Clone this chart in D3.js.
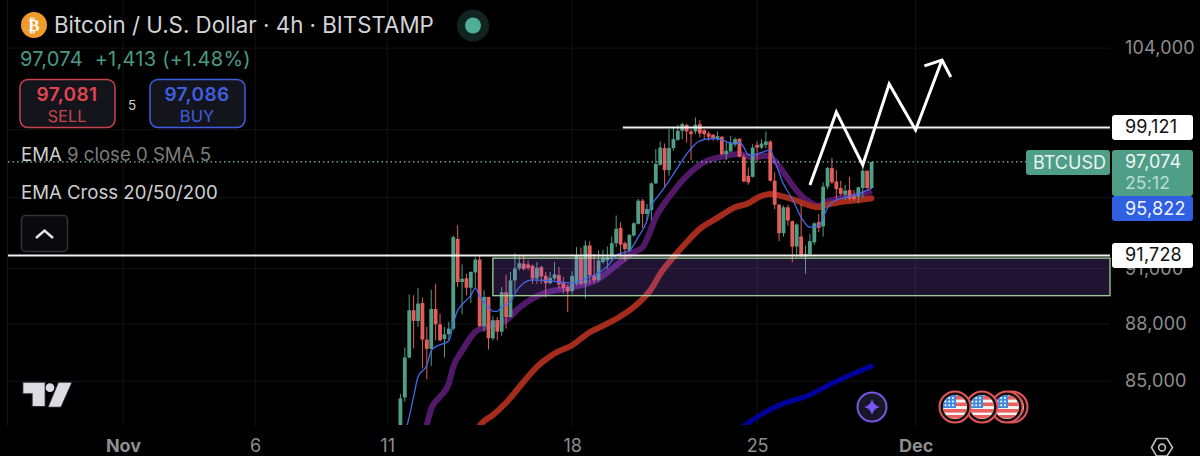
<!DOCTYPE html>
<html><head><meta charset="utf-8">
<script src="https://cdn.jsdelivr.net/npm/d3@7/dist/d3.min.js"></script>
<style>
html,body{margin:0;padding:0;background:#000;overflow:hidden}
svg{display:block;font-family:Inter,"Liberation Sans",sans-serif}
</style></head><body><svg id="c" width="1200" height="456"></svg>
<script>
// ---- data -----------------------------------------------------------------
const startDate = Date.UTC(2024,10,11,12);   // first visible 4h candle
const opens  = [82300,84170,86230,88730,88160,89120,87170,86680,88800,87980,87200,87450,87750,92650,90260,90470,89950,90790,91500,87880,89450,87240,88200,87590,89700,88370,90350,91010,91270,91230,91150,90460,91080,90600,90200,90460,90640,90200,89990,89770,90170,91630,90170,92280,90620,90380,91360,91450,91670,92410,93270,92410,92000,92840,93500,94820,94060,94290,95820,96910,97890,96590,97890,98380,98920,99280,98880,98880,99320,98960,98760,98680,98420,98560,97530,97690,98120,98440,97380,96260,96200,98080,97920,98080,98280,95970,94590,92970,94440,93650,92220,92780,91670,91780,92460,93590,93350,95630,96710,95930,95550,95170,95440,95110,95050,95550,96560,95550];
const highs  = [84340,86750,89590,89540,89950,89410,87840,89840,90170,88550,87840,88110,92840,93420,91230,90710,90830,91630,91730,89810,89450,88410,88370,89990,90660,90810,91850,91670,91710,91450,91230,91360,91170,90810,90810,91360,91080,90530,90130,90860,92190,92150,92560,92520,91820,92000,92040,92220,92780,93970,93590,92520,92900,93590,94920,94920,94630,95880,97830,98280,98160,99020,99120,99280,99420,99320,99020,99720,99560,99020,98880,98720,98880,98620,98220,98620,98520,98480,97530,96750,98120,98320,98420,98880,98360,96460,94630,94540,94590,93690,93530,94630,92280,92930,93590,94060,95880,96790,97300,96590,95970,95740,96200,95440,95630,96750,96560,97074];
const lows   = [82100,83950,86180,86700,87840,85660,85090,85780,87130,87100,86230,87130,87660,89990,88510,89540,89120,89900,87840,87580,86650,87130,87130,87380,87750,88340,89720,90900,90900,90900,90170,90170,90170,89410,90130,90350,89900,89630,88640,89590,90080,90080,89360,90170,90200,90260,91270,90990,91450,92190,91630,91410,91910,92780,93460,93270,93690,93690,95780,96850,95630,96260,97730,98320,98420,98220,97180,98720,98520,98420,98320,98320,98320,97440,97180,97630,97960,97340,95880,95740,96160,97040,97830,97890,95930,94340,92520,92780,93400,91360,91630,91630,90710,91670,92330,93030,92780,95490,95780,94920,95110,94860,94820,94820,94670,94980,95490,95490];
const closes = [84120,86230,88730,88160,89090,87170,86680,88800,87980,87130,87450,87750,92750,90260,90440,89950,90820,91500,87880,89450,87240,88200,87590,89700,88370,90350,91010,91300,90970,91040,90460,91040,90570,90200,90490,90680,90130,89920,89740,90600,91710,90170,92280,90620,90350,91450,91600,91630,92410,93220,92330,92080,92880,93530,94820,94060,94340,95820,96950,97920,96590,97890,98420,98920,99320,98880,98720,99280,98760,98720,98560,98480,98600,97530,97730,98220,98420,97380,95930,95880,97920,97920,98160,98280,95970,94590,92970,94440,93690,92220,93460,91670,91820,92520,93530,93270,95630,96710,95880,95490,95210,95400,94920,94920,95590,96560,95550,97074];
const ema9I  = [1,2,3,4,6,7,8,11,12,13,14,16,17,18,20,21,22,23,25,26,28,30,33,36,39,42,45,47,49,52,54,56,57,58,60,62,65,66,68,71,73,75,76,77,78,79,80,82,84,85,87,89,91,93,95,96,97,99,102,105,107];
const ema9V  = [82300,83193,84206,85225,85832,86577,86785,87100,88019,88726,89033,89537,89934,89483,88906,88673,88673,88906,89177,89628,90204,90385,90349,90277,90204,90439,90750,91137,91726,92002,92746,93685,94536,94919,95590,96360,97534,97866,98320,98459,98380,98180,98120,98220,97925,97495,97475,97631,97768,97143,95782,94919,93872,93310,93403,93872,94401,94861,95053,95302,95551];
const ema20I = [5,6,7,9,11,12,14,17,19,24,27,30,33,37,41,45,49,53,55,56,58,61,64,67,70,73,77,80,83,85,87,90,93,95,97,99,102,105,107];
const ema20V = [82200,82777,83611,84206,84885,85745,86577,87577,87807,88196,88870,89356,89682,89898,90078,90439,91173,91910,92186,92652,93872,95015,95973,96712,97182,97377,97534,97338,97436,97143,96458,95398,94727,94536,94785,94919,95053,95207,95398];
const ema50I = [17,18,21,24,28,31,35,39,43,46,50,53,57,59,62,65,68,72,76,79,81,84,87,90,93,95,97,100,103,107];
const ema50V = [82300,82727,83276,83900,84970,85745,86438,86871,87560,87900,88408,88906,89898,90713,91634,92464,93215,93835,94440,94670,94976,95207,95053,94823,94536,94440,94593,94746,94823,94957];
const ema200I = [78,83,87,92,98,103,107];
const ema200V = [82727,83443,83866,84206,84885,85398,85780];
const arrowI = [93,99,105,111,117,123];
const arrowV = [95722,100055,96891,101763,98966,103250];
const headI = [119,123,125];
const headV = [102882,103250,102196];
const priceTicks = [104000,99000,95000,91000,88000,85000];
const priceLabelled = [104000,91000,88000,85000];
const timeTicks = [Date.UTC(2024,10,1),Date.UTC(2024,10,6),Date.UTC(2024,10,11),Date.UTC(2024,10,18),Date.UTC(2024,10,25),Date.UTC(2024,11,1)];
const timeLabels = ["Nov","6","11","18","25","Dec"];
const levelValues = [99121,91728];
const levelLabels = ["99,121","91,728"];
const zoneHigh = 91578, zoneLow = 89519, zoneStart = Date.UTC(2024,10,15,0);
const lastPrice = 97074;
// ---------------------------------------------------------------------------
const W=1200,H=456,plotL=8,plotR=1110,plotB=425;
const svg=d3.select("#c");
svg.append("rect").attr("width",W).attr("height",H).attr("fill","#000");
const x=d3.scaleUtc().domain([Date.UTC(2024,10,1),Date.UTC(2024,11,1)]).range([123,915.6]);
const y=d3.scaleLog().domain([85000,104000]).range([381.2,48.1]);
const tOf=i=>new Date(startDate+i*4*3600e3);
svg.append("defs").append("clipPath").attr("id","plot").append("rect").attr("x",plotL).attr("y",0).attr("width",plotR-plotL).attr("height",plotB);

// grid
const g=svg.append("g");
g.selectAll(".h").data(priceTicks).join("line").attr("x1",plotL).attr("x2",plotR).attr("y1",d=>y(d)).attr("y2",d=>y(d)).attr("stroke","#131313").attr("stroke-width",1);
g.selectAll(".v").data(timeTicks).join("line").attr("x1",d=>x(d)).attr("x2",d=>x(d)).attr("y1",0).attr("y2",plotB).attr("stroke","#131313");
g.append("line").attr("x1",7.5).attr("x2",7.5).attr("y1",0).attr("y2",plotB).attr("stroke","#131313");

// axes
const ay=d3.axisRight(y).tickValues(priceLabelled).tickFormat(d3.format(",")).tickSize(0).tickPadding(15);
const gy=svg.append("g").attr("transform",`translate(${plotR},0)`).call(ay);
gy.select(".domain").remove();
gy.selectAll("text").attr("fill","#8e8e8e").attr("font-size",18).attr("letter-spacing",0.2).attr("font-family","Inter");
const ax=d3.axisBottom(x).tickValues(timeTicks).tickFormat((d,i)=>timeLabels[i]).tickSize(0).tickPadding(0);
const gx=svg.append("g").attr("transform","translate(0,439)").call(ax);
gx.select(".domain").remove();
gx.selectAll("text").attr("fill","#8e8e8e").attr("font-size",18).attr("font-weight",(d,i)=>(i==0||i==5)?700:400).attr("font-family","Inter");

const plot=svg.append("g").attr("clip-path","url(#plot)");
const lineOf=(I,V)=>d3.line().x((d,k)=>x(tOf(I[k]))).y((d,k)=>y(V[k])).curve(d3.curveMonotoneX)(I);

// EMA bands under candles
plot.append("path").attr("d",lineOf(ema200I,ema200V)).attr("fill","none").attr("stroke","#00009c").attr("stroke-width",5).attr("stroke-linecap","round");
plot.append("path").attr("d",lineOf(ema20I,ema20V)).attr("fill","none").attr("stroke","#521968").attr("stroke-width",6);
plot.append("path").attr("d",lineOf(ema50I,ema50V)).attr("fill","none").attr("stroke","#a52c1c").attr("stroke-width",6).attr("stroke-linecap","round");

// candles
const GREEN="#4f9e88",RED="#e35d5b";
const idx=d3.range(opens.length);
const cg=plot.append("g");
cg.selectAll(".w").data(idx).join("line").attr("x1",i=>x(tOf(i))).attr("x2",i=>x(tOf(i))).attr("y1",i=>y(highs[i])).attr("y2",i=>y(lows[i]))
  .attr("stroke",i=>closes[i]>=opens[i]?GREEN:RED).attr("stroke-width",1);
cg.selectAll(".b").data(idx).join("rect").attr("x",i=>x(tOf(i))-1.9).attr("width",3.8)
  .attr("y",i=>y(Math.max(opens[i],closes[i]))).attr("height",i=>Math.max(1,Math.abs(y(opens[i])-y(closes[i]))))
  .attr("fill",i=>closes[i]>=opens[i]?GREEN:RED);

// translucent zone over the candles
svg.append("rect").attr("x",x(zoneStart)).attr("y",y(zoneHigh)).attr("width",plotR-x(zoneStart)).attr("height",y(zoneLow)-y(zoneHigh))
  .attr("fill","#a564ff").attr("fill-opacity",0.2).attr("stroke","#a0cf99").attr("stroke-width",1.3);

// thin EMA on top
svg.append("g").attr("clip-path","url(#plot)").append("path").attr("d",lineOf(ema9I,ema9V)).attr("fill","none").attr("stroke","#4468ec").attr("stroke-width",1.3);

// last price dotted
svg.append("line").attr("x1",plotL).attr("x2",1026).attr("y1",y(lastPrice)).attr("y2",y(lastPrice)).attr("stroke","#8fbfb0").attr("stroke-width",1.1).attr("stroke-dasharray","1.5 3");

// white levels
const startLevel=[x(tOf(50.5)),plotL];
svg.selectAll(".lvl").data(levelValues).join("line").attr("x1",(d,i)=>startLevel[i]).attr("x2",plotR).attr("y1",d=>y(d)).attr("y2",d=>y(d)).attr("stroke","#f2f2f2").attr("stroke-width",2);

// drawn arrow
const straight=(I,V)=>d3.line().x((d,k)=>x(tOf(I[k]))).y((d,k)=>y(V[k]))(I);
svg.append("path").attr("d",straight(arrowI,arrowV)).attr("fill","none").attr("stroke","#fff").attr("stroke-width",3);
svg.append("path").attr("d",straight(headI,headV)).attr("fill","none").attr("stroke","#fff").attr("stroke-width",3);

// price labels
function tag(xx,yy,w,h,fill){return svg.append("rect").attr("x",xx).attr("y",yy).attr("width",w).attr("height",h).attr("rx",3).attr("fill",fill);}
function txt(xx,yy,s,size,fill,opt={}){const t=svg.append("text").attr("x",xx).attr("y",yy).text(s).attr("font-size",size).attr("fill",fill);for(const k in opt)t.attr(k,opt[k]);return t;}
levelLabels.forEach((s,i)=>{const cy=y(levelValues[i]);tag(1112,cy-12.5,81,25,"#fff");txt(1125,cy+6,s,18,"#111",{"letter-spacing":0.2});});
tag(1112,150,81,46,"#4f9e88");
tag(1026,150,84,25,"#4f9e88");
txt(1033,169,"BTCUSD",18,"#e8f3ef");
txt(1125,168,"97,074",18,"#f0f7f4",{"letter-spacing":0.2});
txt(1125,189,"25:12",17.5,"#b9ddd2",{"letter-spacing":0.2});
tag(1112,196,81,25,"#2f5fe3");
txt(1125,215,"95,822",18,"#f0f3fc",{"letter-spacing":0.2});

// header
svg.append("circle").attr("cx",34).attr("cy",25).attr("r",13).attr("fill","#ef9a2c");
txt(34,31,"₿",17,"#fff",{"text-anchor":"middle","font-weight":700,"font-family":"DejaVu Sans"});
txt(54,33,"Bitcoin / U.S. Dollar · 4h · BITSTAMP",22.3,"#d4d4d8");
svg.append("circle").attr("cx",473).attr("cy",25.5).attr("r",16).attr("fill","#12241f");
svg.append("circle").attr("cx",473).attr("cy",25.5).attr("r",8).attr("fill","#50ad97");
txt(20,66,"97,074  +1,413 (+1.48%)",20,"#4a9b85",{"letter-spacing":0.25,"xml:space":"preserve"});
svg.append("rect").attr("x",20).attr("y",79.5).attr("width",95).attr("height",48).attr("rx",8).attr("fill","#14141c").attr("stroke","#c8444d").attr("stroke-width",1.5);
txt(67,101,"97,081",19,"#e0454f",{"text-anchor":"middle","font-weight":600,"letter-spacing":0.4});
txt(67,122,"SELL",16.5,"#c8444d",{"text-anchor":"middle"});
svg.append("rect").attr("x",150).attr("y",79.5).attr("width",95).attr("height",48).attr("rx",8).attr("fill","#14141c").attr("stroke","#3f5fe0").attr("stroke-width",1.5);
txt(197,101,"97,086",19,"#3f5fe0",{"text-anchor":"middle","font-weight":600,"letter-spacing":0.4});
txt(197,122,"BUY",16.5,"#3f5fe0",{"text-anchor":"middle"});
txt(132,110,"5",13.5,"#cfcfcf",{"text-anchor":"middle"});
const t1=txt(21,161,"EMA ",18.6,"#cfcfcf");t1.append("tspan").attr("fill","#7d7d7d").text("9 close 0 SMA 5");
txt(21,199,"EMA Cross 20/50/200",18.6,"#cfcfcf");
svg.append("rect").attr("x",21.5).attr("y",215.5).attr("width",46).attr("height",36).attr("rx",4).attr("fill","#0a0a0c").attr("stroke","#333338").attr("stroke-width",1.5);
svg.append("path").attr("d","M36 238 L44.5 230.5 L53 238").attr("fill","none").attr("stroke","#e6e6e6").attr("stroke-width",2.4);

// tradingview logo
const logo=svg.append("g").attr("transform","translate(0,370) scale(.3333)");
logo.append("path").attr("d","M70 38H134V108H98V70H70Z M176 38H214L182 110H146Z").attr("fill","#dcdce2").attr("stroke","#26262c").attr("stroke-width",6).attr("paint-order","stroke");
logo.append("circle").attr("cx",150).attr("cy",53).attr("r",13).attr("fill","#dcdce2");

// event icons
const defs=svg.select("defs");
function flag(cx,cy){
  const id="f"+cx;
  defs.append("clipPath").attr("id",id).append("circle").attr("cx",cx).attr("cy",cy).attr("r",12);
  svg.append("circle").attr("cx",cx).attr("cy",cy).attr("r",15.5).attr("fill","#111").attr("stroke","#e4555a").attr("stroke-width",2);
  const f=svg.append("g").attr("clip-path",`url(#${id})`);
  f.append("rect").attr("x",cx-13).attr("y",cy-13).attr("width",26).attr("height",26).attr("fill","#f4f4f4");
  [-11,-4.5,2,8].forEach(d=>f.append("rect").attr("x",cx-13).attr("y",cy+d).attr("width",26).attr("height",3.6).attr("fill","#e8605f"));
  f.append("rect").attr("x",cx-13).attr("y",cy-13).attr("width",14).attr("height",14).attr("fill","#3f8be0");
  for(let a=0;a<3;a++)for(let b=0;b<3;b++)f.append("circle").attr("cx",cx-9.5+a*3.7).attr("cy",cy-9+b*3.6).attr("r",1).attr("fill","#fff");
}
svg.append("circle").attr("cx",872).attr("cy",407).attr("r",14.5).attr("fill","#171728").attr("stroke","#7a55e0").attr("stroke-width",2);
svg.append("path").attr("d","M872 399 Q873.5 405.5 880 407 Q873.5 408.5 872 415 Q870.5 408.5 864 407 Q870.5 405.5 872 399Z").attr("fill","#7a55f0");
flag(1012,407);flag(1007,407);flag(982,407);flag(955,407);

// settings hexagon
svg.append("path").attr("d","M1151.5 447.5 L1156.5 438.5 H1167 L1172.5 447.5 L1167 456 H1156.5Z").attr("fill","none").attr("stroke","#bdbdbd").attr("stroke-width",1.6);
svg.append("circle").attr("cx",1162).attr("cy",447.5).attr("r",3.4).attr("fill","none").attr("stroke","#bdbdbd").attr("stroke-width",1.6);
</script></body></html>
